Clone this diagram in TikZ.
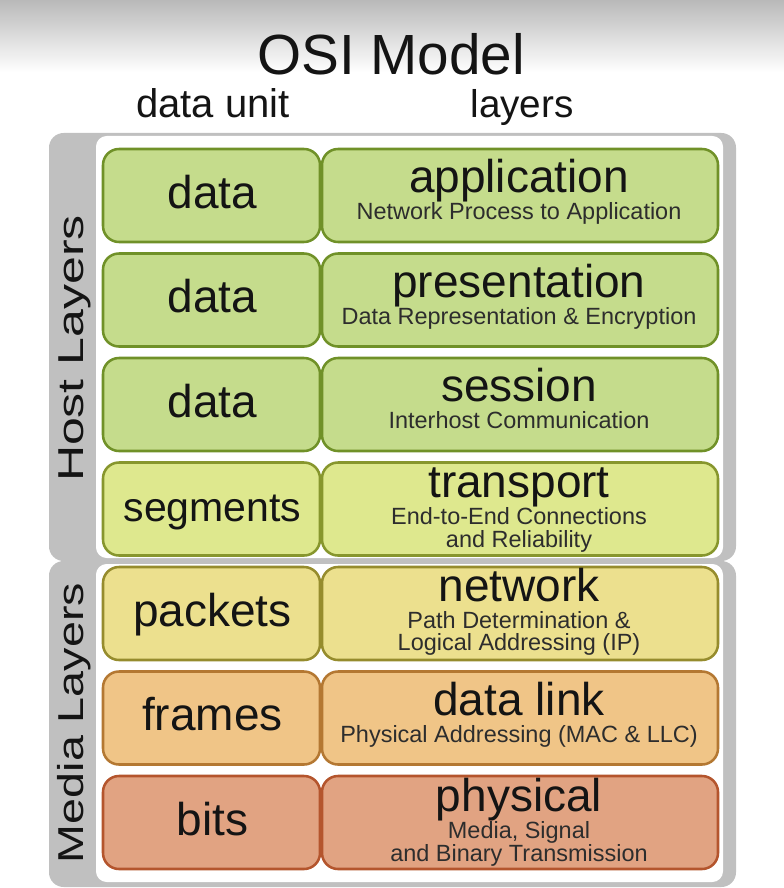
\documentclass[tikz,border=0pt]{standalone}
\usepackage{fontspec}
\setmainfont{Liberation Sans}
\usepackage{graphicx}
\definecolor{grnF}{RGB}{197,220,140}
\definecolor{grnD}{RGB}{112,145,40}
\definecolor{trF}{RGB}{222,232,142}
\definecolor{trD}{RGB}{135,150,45}
\definecolor{nwF}{RGB}{236,224,142}
\definecolor{nwD}{RGB}{150,140,45}
\definecolor{dlF}{RGB}{240,197,135}
\definecolor{dlD}{RGB}{180,120,50}
\definecolor{phF}{RGB}{225,163,130}
\definecolor{phD}{RGB}{180,85,45}
\definecolor{band}{RGB}{192,192,192}
\definecolor{txt}{RGB}{20,20,20}
\definecolor{subtxt}{RGB}{45,45,45}
\definecolor{topgray}{RGB}{185,185,185}
\newcommand\osibigf{\fontsize{34.5}{40}\selectfont}
\newcommand\osisubf{\fontsize{17.6}{17.25}\selectfont}
\tikzset{
  lbox/.style 2 args={line width=1.9pt, rounded corners=12pt, draw=#2, fill=#1},
  big/.style={anchor=base, inner sep=0pt, font=\osibigf, text=txt},
  sub/.style={anchor=base, inner sep=0pt, font=\osisubf, text=subtxt},
  panel/.style={fill=band, rounded corners=11pt},
  inner/.style={fill=white, rounded corners=8pt},
  side/.style={rotate=90, anchor=base, inner sep=0pt, font=\fontsize{27}{30}\selectfont, text=txt}
}
\begin{document}
\begin{tikzpicture}[x=0.75pt,y=-0.75pt]
\fill[white] (0,0) rectangle (784,888);
\useasboundingbox (0,0) rectangle (784,888);
\shade[top color=topgray, bottom color=white] (0,0) rectangle (784,72);

% titles
\node[anchor=base, inner sep=0pt, font=\fontsize{42.5}{48}\selectfont, text=txt] (title) at (391,75) {OSI Model};
\node[anchor=base, inner sep=0pt, font=\fontsize{30}{34}\selectfont, text=txt] (hunit) at (213,118) {data unit};
\node[anchor=base, inner sep=0pt, font=\fontsize{29}{34}\selectfont, text=txt] (hlayer) at (522,118) {layers};

% panels
\fill[panel] (49,133) rectangle (736,561);
\fill[inner] (96,136) rectangle (723,558);
\fill[panel] (49,561) rectangle (736,887);
\fill[inner] (96,564) rectangle (723,882);

\node[side] (host) at (83,348.5) {\scalebox{1.39}[1]{Host Layers}};
\node[side] (media) at (83,723) {\scalebox{1.296}[1]{Media Layers}};

% row 1
\draw[lbox={grnF}{grnD}] (103,149) rectangle (320,242);
\draw[lbox={grnF}{grnD}] (322,149) rectangle (718,242);
\node[big] (u1) at (212.5,208) {data};
\node[big] (l1) at (519,192.5) {application};
\node[sub] (s1) at (519,219.5) {Network Process to Application};

% row 2
\draw[lbox={grnF}{grnD}] (103,253.5) rectangle (320,346.5);
\draw[lbox={grnF}{grnD}] (322,253.5) rectangle (718,346.5);
\node[big] (u2) at (212.5,312.5) {data};
\node[big] (l2) at (519,297) {presentation};
\node[sub] (s2) at (519,324) {Data Representation \& Encryption};

% row 3
\draw[lbox={grnF}{grnD}] (103,358) rectangle (320,451);
\draw[lbox={grnF}{grnD}] (322,358) rectangle (718,451);
\node[big] (u3) at (212.5,417) {data};
\node[big] (l3) at (519,401.5) {session};
\node[sub] (s3) at (519,428.5) {Interhost Communication};

% row 4
\draw[lbox={trF}{trD}] (103,462.5) rectangle (320,555.5);
\draw[lbox={trF}{trD}] (322,462.5) rectangle (718,555.5);
\node[big, font=\fontsize{30.75}{36}\selectfont] (u4) at (212.5,521.5) {segments};
\node[big] (l4) at (519,497.5) {transport};
\node[sub] (s4a) at (519,524.5) {End-to-End Connections};
\node[sub] (s4b) at (519,547.5) {and Reliability};

% row 5
\draw[lbox={nwF}{nwD}] (103,567) rectangle (320,660);
\draw[lbox={nwF}{nwD}] (322,567) rectangle (718,660);
\node[big] (u5) at (212.5,626) {packets};
\node[big] (l5) at (519,601.5) {network};
\node[sub] (s5a) at (519,628.5) {Path Determination \&};
\node[sub] (s5b) at (519,650.5) {Logical Addressing (IP)};

% row 6
\draw[lbox={dlF}{dlD}] (103,671.5) rectangle (320,764.5);
\draw[lbox={dlF}{dlD}] (322,671.5) rectangle (718,764.5);
\node[big] (u6) at (212.5,730.5) {frames};
\node[big] (l6) at (519,715) {data link};
\node[sub] (s6) at (519,742) {Physical Addressing (MAC \& LLC)};

% row 7
\draw[lbox={phF}{phD}] (103,776) rectangle (320,869);
\draw[lbox={phF}{phD}] (322,776) rectangle (718,869);
\node[big] (u7) at (212.5,835) {bits};
\node[big] (l7) at (519,811) {physical};
\node[sub] (s7a) at (519,838.5) {Media, Signal};
\node[sub] (s7b) at (519,861.5) {and Binary Transmission};
\end{tikzpicture}
\end{document}
